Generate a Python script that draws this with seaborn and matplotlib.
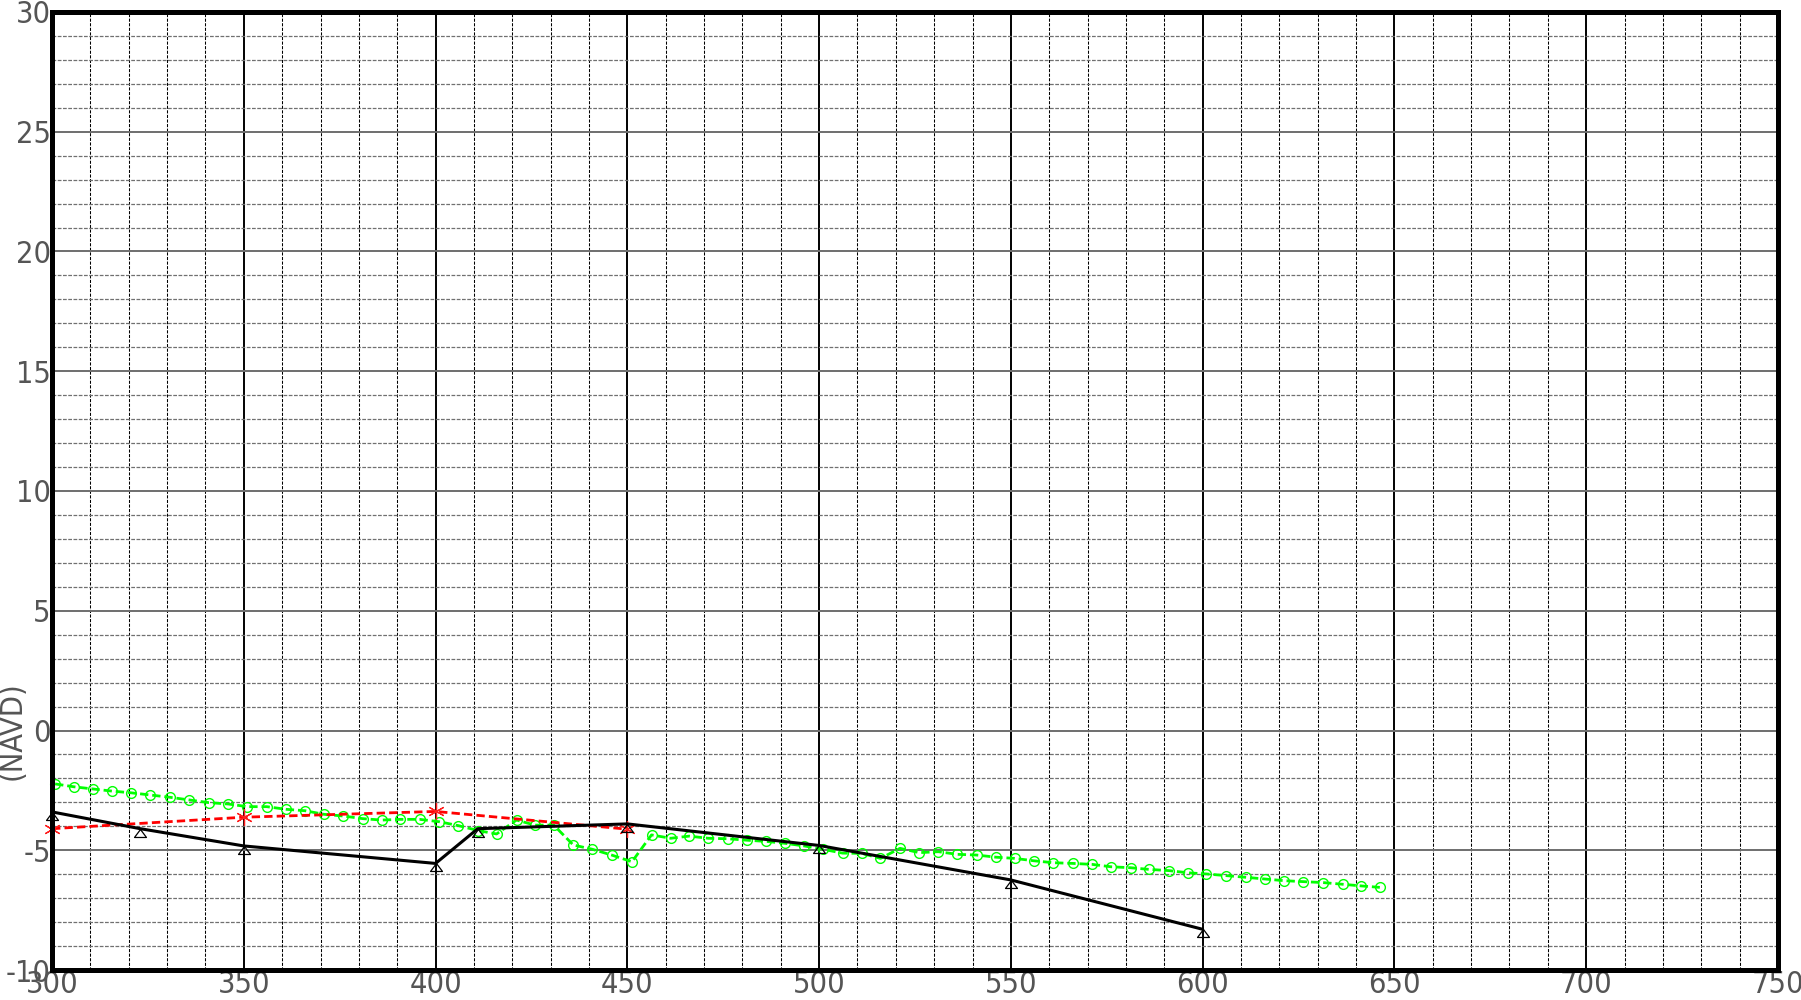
"""Perfil de elevaciones (NAVD): terreno, diseño y levantamiento."""

import matplotlib
matplotlib.use("Agg")
import matplotlib.pyplot as plt
from matplotlib.path import Path
from matplotlib.ticker import MultipleLocator
import seaborn as sns

# Perfil negro con triángulos
perfil_x = [300, 323, 350, 400, 411, 450, 500, 550, 600]
perfil_y = [-3.4, -4.1, -4.82, -5.55, -4.1, -3.9, -4.8, -6.24, -8.3]

# Perfil rojo con asteriscos
diseno_x = [300, 350, 400, 450]
diseno_y = [-4.1, -3.62, -3.38, -4.12]

# Perfil verde con círculos
lev_x = [
    300.8, 305.7, 310.6, 315.6, 320.5, 325.5, 330.8, 335.8, 340.8, 346.0,
    350.9, 356.0, 361.0, 366.0, 370.9, 375.9, 381.0, 385.9, 390.8, 395.9,
    401.0, 405.9, 411.1, 415.9, 421.1, 425.9, 430.8, 435.9, 440.9, 445.9,
    451.2, 456.3, 461.3, 466.1, 471.1, 476.2, 481.1, 486.1, 491.1, 496.1,
    501.0, 506.1, 511.1, 516.0, 521.1, 526.1, 531.1, 536.0, 541.1, 546.1,
    551.0, 556.0, 561.0, 566.2, 571.2, 576.1, 581.2, 586.1, 591.2, 596.1,
    601.0, 606.2, 611.3, 616.2, 621.2, 626.2, 631.4, 636.5, 641.4, 646.2,
]
lev_y = [
    -2.23, -2.35, -2.44, -2.53, -2.60, -2.69, -2.79, -2.90, -3.01, -3.07,
    -3.18, -3.18, -3.29, -3.35, -3.50, -3.57, -3.68, -3.74, -3.71, -3.71,
    -3.81, -3.97, -4.18, -4.32, -3.74, -3.95, -3.95, -4.78, -4.96, -5.20,
    -5.48, -4.36, -4.50, -4.41, -4.50, -4.52, -4.58, -4.63, -4.71, -4.82,
    -4.96, -5.12, -5.13, -5.34, -4.92, -5.10, -5.06, -5.17, -5.20, -5.29,
    -5.34, -5.44, -5.52, -5.55, -5.59, -5.69, -5.73, -5.80, -5.85, -5.94,
    -5.99, -6.06, -6.13, -6.20, -6.27, -6.31, -6.35, -6.42, -6.49, -6.55,
]

sns.set_style("white")
plt.rcParams["font.family"] = ["DejaVu Sans"]
plt.rcParams["font.stretch"] = "condensed"
plt.rcParams["font.weight"] = "light"
plt.rcParams["axes.unicode_minus"] = False

fig = plt.figure(figsize=(18.01, 10.0), dpi=100)
ax = fig.add_axes([0.0289, 0.030, 0.9583, 0.958])

# Cuadrícula
ax.set_xlim(300, 750)
ax.set_ylim(-10, 30)
ax.xaxis.set_major_locator(MultipleLocator(50))
ax.xaxis.set_minor_locator(MultipleLocator(10))
ax.yaxis.set_major_locator(MultipleLocator(5))
ax.yaxis.set_minor_locator(MultipleLocator(1))
ax.set_axisbelow(True)
ax.grid(which="major", axis="x", color="black", lw=1.4, ls="-")
ax.grid(which="minor", axis="x", color="black", lw=0.75, ls=(0, (3, 1.4)))
ax.grid(which="major", axis="y", color="#6e6e6e", lw=1.4, ls="-")
ax.grid(which="minor", axis="y", color="#707070", lw=0.9, ls=(0, (3, 1.2)))

# Triángulo con el vértice en el punto
triangulo = Path([(0, 0), (-0.75, -1.0), (0.75, -1.0), (0, 0)],
                 [Path.MOVETO, Path.LINETO, Path.LINETO, Path.CLOSEPOLY])

sns.lineplot(x=lev_x, y=lev_y, ax=ax, sort=False, estimator=None,
             color="#00ff00", lw=2.0, linestyle=(0, (3.0, 1.4)),
             marker="o", markersize=7, markerfacecolor="none",
             markeredgecolor="#00ff00", markeredgewidth=1.0, clip_on=False, zorder=4)
sns.lineplot(x=diseno_x, y=diseno_y, ax=ax, sort=False, estimator=None,
             color="red", lw=2.0, linestyle=(0, (3.0, 1.5)),
             marker=(6, 2, 0), markersize=12, markeredgecolor="#ff2020",
             markeredgewidth=0.9, clip_on=False, zorder=5)
sns.lineplot(x=perfil_x, y=perfil_y, ax=ax, sort=False, estimator=None,
             color="black", lw=2.2, marker=triangulo, markersize=11.5,
             markerfacecolor="none", markeredgecolor="black",
             markeredgewidth=0.9, clip_on=False, zorder=6)

# Bordes y etiquetas
for lado in ax.spines.values():
    lado.set_linewidth(3.6)
    lado.set_color("black")
    lado.set_capstyle("projecting")
    lado.set_zorder(7)

ax.tick_params(axis="both", which="both", length=0, labelsize=22,
               labelcolor="#555555")
ax.tick_params(axis="x", pad=0)
ax.tick_params(axis="y", pad=1)
ax.set_xlabel("")
ax.set_ylabel("(NAVD)", fontsize=22, color="#555555")
ax.yaxis.set_label_coords(-0.0232, 0.2495)
ax.yaxis.label.set_verticalalignment("center")

fig.savefig("out.png", dpi=100)
plt.close(fig)
